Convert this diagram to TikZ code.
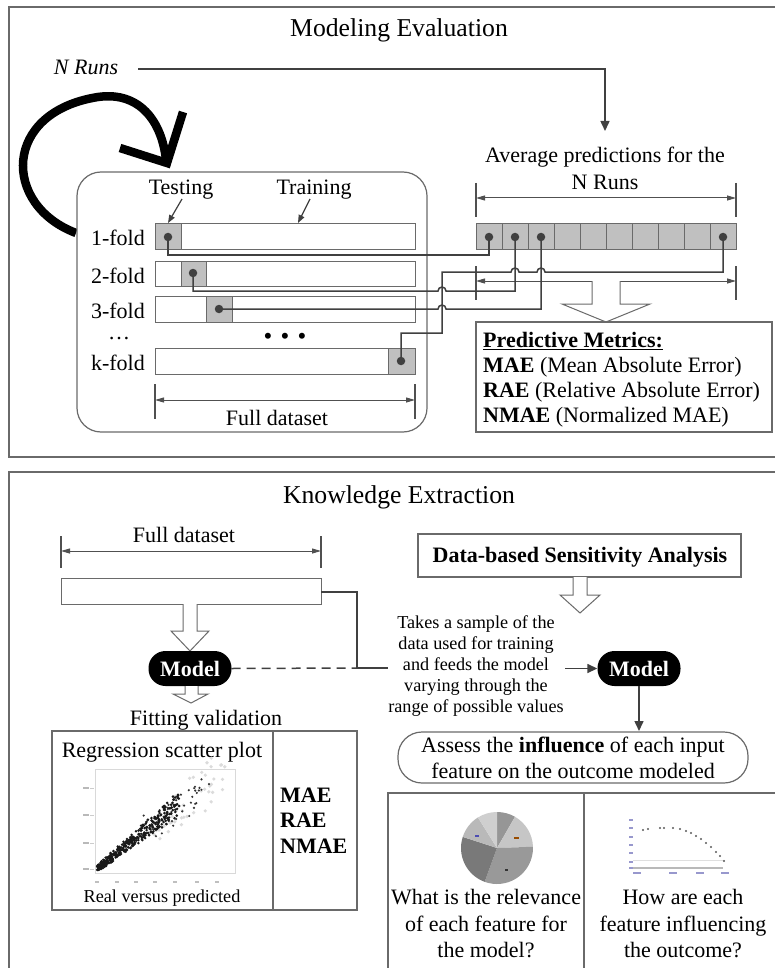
\documentclass[tikz,border=0pt]{standalone}
\usepackage{fontspec}
\setmainfont{Liberation Serif}
\usetikzlibrary{arrows.meta}
\definecolor{ln}{HTML}{404040}
\definecolor{bd}{HTML}{6A6A6A}
\definecolor{dimc}{HTML}{505050}
\definecolor{cellg}{HTML}{C0C0C0}
\begin{document}
\begin{tikzpicture}[x=1pt,y=-1pt,
  panel/.style={draw=bd, line width=1.2pt},
  conn/.style={draw=ln, line width=1.5pt},
  dotn/.style={circle, fill=ln, inner sep=0pt, minimum size=8.5pt},
  fbar/.style={draw=bd, line width=1pt, fill=white},
  tcell/.style={draw=bd, line width=1pt, fill=cellg},
  dimline/.style={draw=dimc, line width=1pt, {Triangle[length=9pt,width=5pt]}-{Triangle[length=9pt,width=5pt]}},
  dimtick/.style={draw=dimc, line width=1.2pt},
  hollow/.style={draw=bd, line width=1pt, fill=white},
  titletxt/.style={font=\fontsize{25.7}{30}\selectfont, inner sep=0pt, anchor=base},
  body/.style={font=\fontsize{22}{25}\selectfont, inner sep=0pt, anchor=base},
  small/.style={font=\fontsize{18.2}{21}\selectfont, inner sep=0pt, anchor=base},
  model/.style={fill=black, text=white, font=\bfseries\fontsize{22}{25}\selectfont, rounded corners=17pt, minimum width=83pt, minimum height=35pt, inner sep=0pt},
  tip/.style={-{Triangle[length=10pt,width=9pt]}},
  smalltip/.style={-{Triangle[length=8pt,width=6pt]}},
]
\useasboundingbox (0,0) rectangle (774,968);
\fill[white] (0,0) rectangle (774,968);

% ================= TOP PANEL =================
\draw[panel] (9,7) rectangle (778,457);
\node[titletxt] (t1) at (399,37) {Modeling Evaluation};
\node[body, font=\itshape\fontsize{22}{25}\selectfont] (nruns) at (86,75) {N Runs};
\coordinate (nrs) at (138,69);
\coordinate (avgtop) at (605,131);
\draw[conn, tip] (nrs) -| (avgtop);

% big circular arrow
\draw[line width=8.5pt, black] (76,233) .. controls (2,205) and (2,112) .. (98,97) .. controls (140,91) and (162,122) .. (166,160);
\draw[line width=8.5pt, black, line join=miter] (120,148) -- (167,163) -- (183,112);

% inner rounded box
\draw[panel, fill=white, rounded corners=24pt] (77,172) rectangle (427,432);
\node[body] (testing) at (181,195) {Testing};
\node[body] (training) at (314,195) {Training};
\draw[conn, line width=1.2pt, smalltip] (182,199) -- (168,223);
\draw[conn, line width=1.2pt, smalltip] (310,199) -- (298,223);

% folds
\draw[fbar] (155,224) rectangle (415,249);
\draw[tcell] (155,224) rectangle (181,249);
\draw[fbar] (155,261) rectangle (415,286);
\draw[tcell] (181,261) rectangle (206,286);
\draw[fbar] (155,296) rectangle (415,322);
\draw[tcell] (206,296) rectangle (232,322);
\draw[fbar] (155,348) rectangle (415,374);
\draw[tcell] (388,348) rectangle (415,374);
\node[body, anchor=base east] (l1) at (145,246) {1-fold};
\node[body, anchor=base east] (l2) at (145,283) {2-fold};
\node[body, anchor=base east] (l3) at (145,318) {3-fold};
\node[body] (ldots) at (119,339) {\ldots};
\node[body, font=\fontsize{25}{28}\selectfont] (bdots) at (285,344) {•\,\,•\,\,•};
\node[body, anchor=base east] (lk) at (145,370) {k-fold};

% full dataset dimension (top)
\draw[dimtick] (155,384) -- (155,419);
\draw[dimtick] (415,384) -- (415,419);
\draw[dimline] (155,400) -- (415,400);
\node[body] (fd1) at (277,425) {Full dataset};

% predictions array
\node[body] (avg1) at (605,163) {Average predictions for the};
\node[body] (avg2) at (605,190) {N Runs};
\draw[dimtick] (476,183) -- (476,217);
\draw[dimtick] (736,183) -- (736,217);
\draw[dimline] (476,198) -- (736,198);
\foreach \i in {0,...,9} {
  \draw[tcell] (476+26*\i,224) rectangle (502+26*\i,249);
}

% dots
\node[dotn] (f1d) at (168,237) {};
\node[dotn] (f2d) at (193,273) {};
\node[dotn] (f3d) at (219,309) {};
\node[dotn] (fkd) at (401,361) {};
\node[dotn] (p1) at (489,237) {};
\node[dotn] (p2) at (515,237) {};
\node[dotn] (p3) at (541,237) {};
\node[dotn] (pk) at (723,237) {};

% lower dimension
\draw[dimtick] (476,266) -- (476,300);
\draw[dimtick] (736,266) -- (736,300);
\draw[dimline] (476,281) -- (736,281);

% connectors
\draw[conn] (f1d.center) -- (168,255) -| (p1.center);
\draw[conn] (f2d.center) -- (193,291) -- (438,291) arc[start angle=180, end angle=360, radius=4] -| (p2.center);
\draw[conn] (f3d.center) -- (438,309) arc[start angle=180, end angle=360, radius=4] -| (p3.center);
\draw[conn] (fkd.center) -- (401,333) -- (442,333) -- (442,272) -- (511,272) arc[start angle=180, end angle=360, radius=4] -- (537,272) arc[start angle=180, end angle=360, radius=4] -| (pk.center);

% hollow arrow to metrics
\draw[hollow] (592,281) -- (592,304) -- (562,304) -- (606,322) -- (650,304) -- (620,304) -- (620,281);

% predictive metrics box
\draw[panel, fill=white] (476,322) rectangle (772,432);
\node[body, anchor=base west] (pm0) at (483,347) {\underline{\textbf{Predictive Metrics:}}};
\node[body, anchor=base west] (pm1) at (483,372) {\textbf{MAE} (Mean Absolute Error)};
\node[body, anchor=base west] (pm2) at (483,397) {\textbf{RAE} (Relative Absolute Error)};
\node[body, anchor=base west] (pm3) at (483,422) {\textbf{NMAE} (Normalized MAE)};

% ================= BOTTOM PANEL =================
\draw[panel] (9,472) rectangle (778,990);
\node[titletxt] (t2) at (399,503) {Knowledge Extraction};

\draw[dimtick] (61,536) -- (61,568);
\draw[dimtick] (321,536) -- (321,568);
\draw[dimline] (61,551) -- (321,551);
\node[body] (fd2) at (184,542) {Full dataset};
\draw[fbar] (61,578) rectangle (321,604);

% hollow arrow bar -> model
\draw[hollow] (183,604) -- (183,631) -- (171,631) -- (190,651) -- (209,631) -- (197,631) -- (197,604);
\node[model] (m1) at (190,668.5) {Model};
\draw[hollow] (185,686) -- (185,694) -- (173,694) -- (191,703) -- (208,694) -- (198,694) -- (198,686);
\node[body] (fit) at (206,725) {Fitting validation};

% line from bar
\draw[conn] (321,592) -- (357,592) -- (357,668) -- (388,668);
\draw[conn, dash pattern=on 9pt off 6pt] (m1.east) -- (357,668);

% regression box
\draw[panel] (52,731) rectangle (357,910);
\draw[panel] (273,731) -- (273,910);
\node[body] (reg) at (162,757) {Regression scatter plot};
\node[small] (rvp) at (162,902) {Real versus predicted};
\node[body, anchor=base west] (e1) at (280,802) {\textbf{MAE}};
\node[body, anchor=base west] (e2) at (280,827) {\textbf{RAE}};
\node[body, anchor=base west] (e3) at (280,853) {\textbf{NMAE}};

% scatter plot picture
\draw[gray!30, line width=0.6pt] (95,769) rectangle (235,873);
\foreach \yy in {788,815,843,869} { \fill[gray!55] (83,\yy-1) rectangle (89,\yy+1); \fill[gray!40] (90,\yy) rectangle (94,\yy+0.8);}
\foreach \xx in {97,117,136,155,175,197,217} { \fill[gray!50] (\xx-2,881) rectangle (\xx+2,883); }
\pgfmathsetseed{12}
\foreach \i in {1,...,45} {
  \pgfmathsetmacro\t{0.4+0.6*rnd}
  \pgfmathsetmacro\xx{98+130*\t+(rnd-0.5)*24}
  \pgfmathsetmacro\yy{868-98*\t+(rnd-0.5)*34}
  \fill[gray!28] (\xx,\yy) circle (1.8);
}
\foreach \i in {1,...,40} {
  \pgfmathsetmacro\t{0.45+0.5*rnd}
  \pgfmathsetmacro\xx{98+110*\t+(rnd-0.5)*16}
  \pgfmathsetmacro\yy{868-85*\t+(rnd-0.5)*30}
  \fill[black!80] (\xx,\yy) circle (1.2);
}
\foreach \i in {1,...,380} {
  \pgfmathsetmacro\t{rnd^1.45}
  \pgfmathsetmacro\xx{98+80*\t+(rnd-0.5)*4}
  \pgfmathsetmacro\yy{868-64*\t+(rnd-0.5)*(5+18*\t)}
  \fill[black!90] (\xx,\yy) circle (1.45);
}

% sensitivity analysis
\draw[panel] (418,534) rectangle (741,577);
\node[body] (dsa) at (580,562) {\textbf{Data-based Sensitivity Analysis}};
\draw[hollow] (573,577) -- (573,595) -- (560,595) -- (580,613) -- (600,595) -- (587,595) -- (587,577);
\node[small] (s1) at (476,628) {Takes a sample of the};
\node[small] (s2) at (476,649) {data used for training};
\node[small] (s3) at (476,670) {and feeds the model};
\node[small] (s4) at (476,691) {varying through the};
\node[small] (s5) at (476,712) {range of possible values};
\node[model] (m2) at (639,668.5) {Model};
\coordinate (m2in) at (565,668.5);
\draw[conn, tip] (m2in) -- (m2.west);

\draw[panel, fill=white, rounded corners=24pt] (398,732) rectangle (748,783);
\node[body] (as1) at (573,752) {Assess the \textbf{influence} of each input};
\node[body] (as2) at (573,778) {feature on the outcome modeled};
\coordinate (asstop) at (639,731);
\draw[conn, tip] (m2.south) -- (asstop);

% questions box
\draw[panel] (388,793) rectangle (790,990);
\draw[panel] (584,793) -- (584,990);

% pie chart
\begin{scope}[shift={(497,848)}]
  \fill[gray!50!black!55] (0,0) -- (270:36) arc[start angle=270, end angle=300, radius=36] -- cycle;
  \fill[gray!45] (0,0) -- (300:36) arc[start angle=300, end angle=358, radius=36] -- cycle;
  \fill[gray!80] (0,0) -- (358:36) arc[start angle=358, end angle=470, radius=36] -- cycle;
  \fill[gray!95!black] (0,0) -- (110:36) arc[start angle=110, end angle=198, radius=36] -- cycle;
  \fill[gray!55] (0,0) -- (198:36) arc[start angle=198, end angle=238, radius=36] -- cycle;
  \fill[gray!38] (0,0) -- (238:36) arc[start angle=238, end angle=270, radius=36] -- cycle;
  \fill[orange!60!black] (17,-11) rectangle (22,-9);
  \fill[blue!40!gray] (-22,-13) rectangle (-18,-11.5);
  \fill[gray!40!black] (8,21) rectangle (11,23);
\end{scope}

% line chart
\draw[gray!25, line width=1pt] (633,860) -- (725,860);
\draw[gray!55, line width=1.2pt] (633,868) -- (723,868);
\foreach \yy in {820,828,837,845,853,862,868} { \fill[blue!35!gray!60] (629,\yy-1) rectangle (633,\yy+1); }
\foreach \xx in {637,673,700,725} { \fill[blue!35!gray!60] (\xx-4,872) rectangle (\xx+4,874); }
\foreach \xx/\yy in {643/830,648/829,660/828,664/828,673/828,680/829,686/831,691/833,696/836,701/839,706/843,711/847,716/852,720/856,724/861} {
  \fill[gray!70!black] (\xx,\yy) circle (1.1);
}

\node[body] (q1) at (486,904) {What is the relevance};
\node[body] (q2) at (486,931) {of each feature for};
\node[body] (q3) at (486,957) {the model?};
\node[body] (h1) at (683,904) {How are each};
\node[body] (h2) at (683,931) {feature influencing};
\node[body] (h3) at (683,957) {the outcome?};
\end{tikzpicture}
\end{document}
